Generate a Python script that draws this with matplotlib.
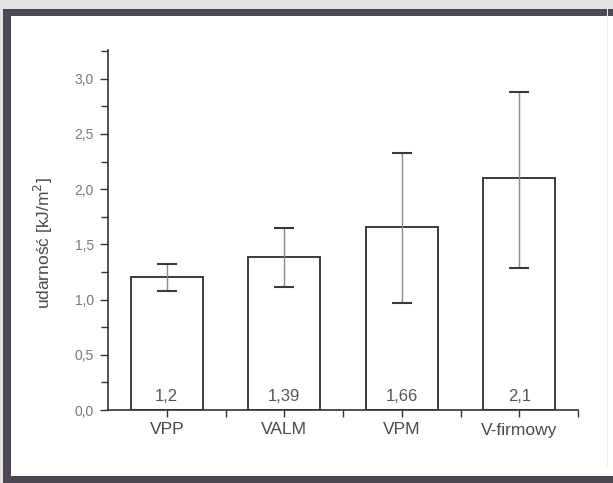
import matplotlib
matplotlib.use("Agg")
import matplotlib.pyplot as plt
from matplotlib.patches import Rectangle
from matplotlib.ticker import MultipleLocator, FuncFormatter, FixedLocator
import numpy as np

plt.rcParams['font.family'] = ['Liberation Sans', 'DejaVu Sans']

categories = ["VPP", "VALM", "VPM", "V-firmowy"]
values = [1.2, 1.39, 1.66, 2.1]
value_labels = ["1,2", "1,39", "1,66", "2,1"]
err_upper = [1.32, 1.65, 2.33, 2.88]
err_lower = [1.08, 1.11, 0.97, 1.29]

fig = plt.figure(figsize=(6.13, 4.83), dpi=100)
fig.patch.set_facecolor("white")

# scanned frame decoration
fig.patches.append(Rectangle((0, 1 - 9/483), 1, 9/483, transform=fig.transFigure,
                             facecolor="#e4e2e4", edgecolor="none", zorder=0))
fig.patches.append(Rectangle((0, 1 - 16/483), 1, 7/483, transform=fig.transFigure,
                             facecolor="#4d4852", edgecolor="none", zorder=0))
fig.patches.append(Rectangle((3/613, 0), 8/613, 1 - 9/483, transform=fig.transFigure,
                             facecolor="#4d4852", edgecolor="none", zorder=0))
fig.patches.append(Rectangle((0, 0), 1, 7/483, transform=fig.transFigure,
                             facecolor="#4d4852", edgecolor="none", zorder=0))
fig.patches.append(Rectangle((0, 0), 3/613, 1, transform=fig.transFigure,
                             facecolor="#e4e2e4", edgecolor="none", zorder=0))
fig.patches.append(Rectangle((607/613, 16/483), 1/613, 1 - 23/483, transform=fig.transFigure,
                             facecolor="#ececec", edgecolor="none", zorder=0))

ax = fig.add_axes([108/613, 1 - 410/483, (578 - 108)/613, (410 - 50)/483])
ax.set_facecolor("none")

x = np.arange(len(categories))
ax.bar(x, values, width=0.61, facecolor="white", edgecolor="#3a3a3a", linewidth=1.4, zorder=2)

vals = np.array(values)
yerr = np.array([vals - np.array(err_lower), np.array(err_upper) - vals])
eb = ax.errorbar(x, values, yerr=yerr, fmt="none", ecolor="#8a8a8a", elinewidth=1.0,
                 capsize=7, capthick=1.5, zorder=3)
for cap in eb[1]:
    cap.set_markeredgecolor("#3a3a3a")
    cap.set_color("#3a3a3a")

for xi, lab in zip(x, value_labels):
    ax.text(xi, 0.12, lab, ha="center", va="center", fontsize=12, color="#555555", zorder=4)

ax.set_xlim(-0.5, 3.5)
ax.set_ylim(0, 3.26)

ax.spines["top"].set_visible(False)
ax.spines["right"].set_visible(False)
ax.spines["left"].set_color("#333333")
ax.spines["bottom"].set_color("#333333")
ax.spines["left"].set_linewidth(1.2)
ax.spines["bottom"].set_linewidth(1.2)

ax.set_xticks(x)
ax.set_xticklabels(categories, fontsize=12.5, color="#4a4a4a")
ax.xaxis.set_minor_locator(FixedLocator([0.5, 1.5, 2.5, 3.5]))
ax.yaxis.set_major_locator(MultipleLocator(0.5))
ax.yaxis.set_minor_locator(MultipleLocator(0.25))
ax.yaxis.set_major_formatter(FuncFormatter(lambda v, p: f"{v:.1f}".replace(".", ",")))
ax.tick_params(axis="y", which="major", length=6, width=1, colors="#333333",
               labelsize=10, labelcolor="#777777", pad=4)
ax.tick_params(axis="y", which="minor", length=5, width=1, colors="#333333")
ax.tick_params(axis="x", which="major", length=5, width=1, colors="#333333",
               labelcolor="#4a4a4a", pad=4)
ax.tick_params(axis="x", which="minor", length=5, width=1, colors="#333333")

ax.set_ylabel("udarność [kJ/m$^2$]", fontsize=12.5, color="#4a4a4a")
ax.yaxis.set_label_coords(-0.113, 0.464)

fig.savefig("out.png", dpi=100)
